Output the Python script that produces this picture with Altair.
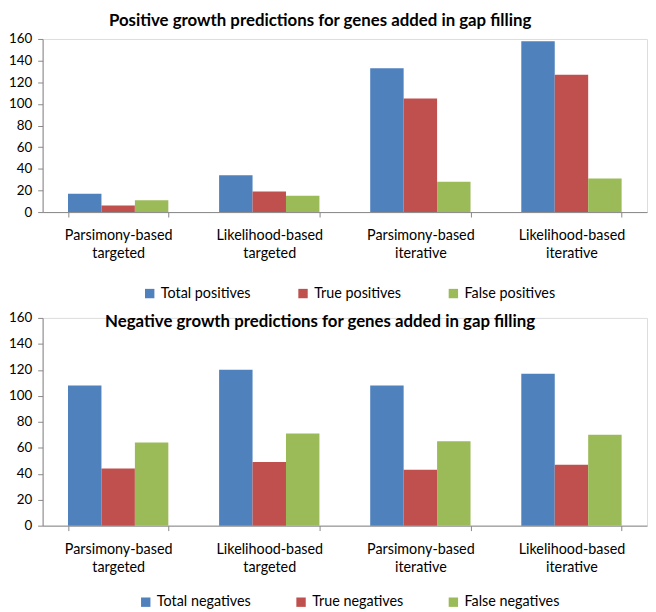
import altair as alt
import pandas as pd

categories = ["Parsimony-based targeted", "Likelihood-based targeted",
              "Parsimony-based iterative", "Likelihood-based iterative"]

pos_series = ["Total positives", "True positives", "False positives"]
total_pos = [17, 34, 133, 158]
true_pos = [6, 19, 105, 127]
false_pos = [11, 15, 28, 31]

neg_series = ["Total negatives", "True negatives", "False negatives"]
total_neg = [108, 120, 108, 117]
true_neg = [44, 49, 43, 47]
false_neg = [64, 71, 65, 70]

colors = ["#4F81BD", "#C0504D", "#9BBB59"]
FONT = "Lato"


def make_df(series, arrays):
    rows = []
    for s, arr in zip(series, arrays):
        for c, v in zip(categories, arr):
            rows.append({"category": c, "series": s, "value": v})
    return pd.DataFrame(rows)


def panel(df, series, title, h, title_offset, legend_x, legend_y, col_pad):
    return alt.Chart(df).mark_bar().encode(
        x=alt.X("category:N", sort=categories, title=None,
                scale=alt.Scale(paddingInner=0.336, paddingOuter=0.168),
                axis=alt.Axis(labelAngle=0, labelExpr="split(datum.label, ' ')",
                              tickBand="extent", tickSize=5, labelPadding=12,
                              labelFontSize=14.5, labelLineHeight=18)),
        xOffset=alt.XOffset("series:N", sort=series,
                            scale=alt.Scale(domain=series, paddingInner=0,
                                            paddingOuter=0)),
        y=alt.Y("value:Q", title=None,
                scale=alt.Scale(domain=[0, 160]),
                axis=alt.Axis(values=list(range(0, 161, 20)), grid=False,
                              tickSize=5, labelFontSize=13.5, labelPadding=6)),
        color=alt.Color("series:N", sort=series,
                        scale=alt.Scale(domain=series, range=colors),
                        legend=alt.Legend(title=None, orient="none",
                                          legendX=legend_x, legendY=legend_y,
                                          direction="horizontal",
                                          symbolType="square", symbolSize=90,
                                          symbolStrokeWidth=0, symbolOffset=0,
                                          labelFontSize=14.5, columnPadding=col_pad,
                                          labelOffset=4)),
    ).properties(
        width=611, height=h,
        title=alt.TitleParams(title, fontSize=17, fontWeight="bold",
                              anchor="middle", dx=-25, offset=title_offset),
    )


top = panel(make_df(pos_series, [total_pos, true_pos, false_pos]),
            pos_series, "Positive growth predictions for genes added in gap filling",
            175, 2, 101, 250, 45)
bottom = panel(make_df(neg_series, [total_neg, true_neg, false_neg]),
               neg_series, "Negative growth predictions for genes added in gap filling",
               210, -20, 97, 280, 43)

chart = alt.vconcat(top, bottom, spacing=9).resolve_scale(
    color="independent", xOffset="independent").resolve_legend(
    color="independent").configure_axis(
    domainColor="#868686", tickColor="#868686", labelColor="#000000",
    labelFont=FONT,
).configure_legend(labelFont=FONT, labelColor="#000000").configure_title(
    font=FONT, color="#000000"
).configure_view(strokeWidth=0).configure(
    font=FONT, padding={"left": 0, "top": 0, "right": 0, "bottom": 0})

chart.save("out.html", embed_options={"renderer": "svg", "actions": False})
